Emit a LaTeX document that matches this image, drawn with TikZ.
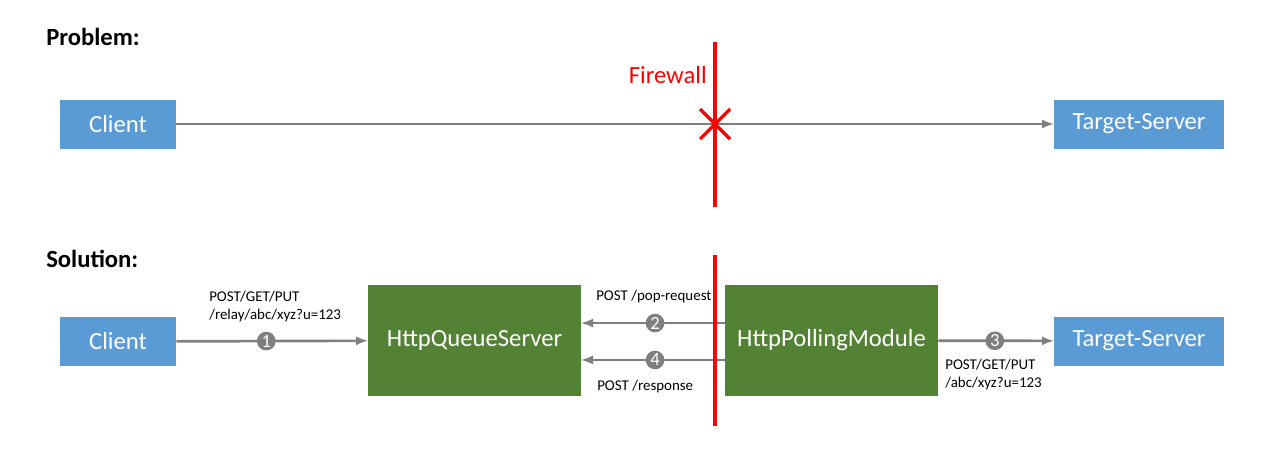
\documentclass[tikz,border=0pt]{standalone}
\usepackage{fontspec}
\setmainfont{Carlito}
\usepackage{tikz}
\usetikzlibrary{calc}

\definecolor{boxblue}{HTML}{5B9BD5}
\definecolor{boxgreen}{HTML}{548235}
\definecolor{arrowgray}{HTML}{7F7F7F}

\begin{document}
\begin{tikzpicture}[x=0.75pt,y=-0.75pt,
  bigfont/.style={font=\fontsize{18.5}{22}\selectfont},
  bluebox/.style={bigfont,fill=boxblue,text=white,minimum height=36.75pt},
  greenbox/.style={bigfont,fill=boxgreen,text=white,minimum width=159.75pt,minimum height=83.25pt},
  flow/.style={draw=arrowgray,line width=2pt,-latex},
  stepnum/.style={circle,fill=arrowgray,text=white,inner sep=0pt,minimum size=14pt,font=\fontsize{14}{14}\selectfont},
  smalltext/.style={font=\fontsize{11.2}{12.8}\selectfont,align=left,inner sep=0pt,anchor=west},
  wall/.style={draw=red,line width=3pt}]
\useasboundingbox (0,0) rectangle (1280,454);
% Problem
\node[bigfont,anchor=base west,inner sep=0pt] (problem) at (46,45) {\bfseries Problem:};
\node[bluebox,minimum width=87pt] (client1) at (118,124) {Client};
\node[bluebox,minimum width=127.5pt] (target1) at (1139,124) {Target-Server};
\draw[flow] (client1) -- (target1);
\coordinate (wallTop1) at (715,42);
\coordinate (wallBot1) at (715,207);
\draw[wall] (wallTop1) -- (wallBot1);
\node[bigfont,text=red,anchor=base east,inner sep=0pt] (firewall) at (707,83) {Firewall};
\coordinate (blocked) at (715,124);
\draw[red,line width=2.4pt] ($(blocked)+(-15,-15)$) -- ($(blocked)+(15,15)$);
\draw[red,line width=2.4pt] ($(blocked)+(-15,15)$) -- ($(blocked)+(15,-15)$);

% Solution
\node[bigfont,anchor=base west,inner sep=0pt] (solution) at (46,267) {\bfseries Solution:};
\node[bluebox,minimum width=87pt] (client2) at (118,341.5) {Client};
\node[greenbox] (queue) at (474.5,340.5) {HttpQueueServer};
\node[greenbox] (polling) at (831.5,340.5) {HttpPollingModule};
\node[bluebox,minimum width=127.5pt] (target2) at (1139,341) {Target-Server};
\draw[flow] (client2) -- (queue) node[stepnum,pos=0.47]{1};
\draw[flow] ([yshift=13.1pt]polling.west) -- ([yshift=13.1pt]queue.east) node[stepnum,pos=0.486]{2};
\draw[flow] ([yshift=-14.6pt]polling.west) -- ([yshift=-14.6pt]queue.east) node[stepnum,pos=0.486]{4};
\draw[flow] (polling) -- (target2) node[stepnum,pos=0.49]{3};
\coordinate (wallTop2) at (715,255);
\coordinate (wallBot2) at (715,426);
\draw[wall] (wallTop2) -- (wallBot2);
\node[smalltext] (req1) at (209,306.5) {POST/GET/PUT\\/relay/abc/xyz?u=123};
\node[smalltext] (pop) at (596,297) {POST /pop-request};
\node[smalltext] (resp) at (597,387) {POST /response};
\node[smalltext] (req3) at (945,374.5) {POST/GET/PUT\\/abc/xyz?u=123};
\end{tikzpicture}
\end{document}
